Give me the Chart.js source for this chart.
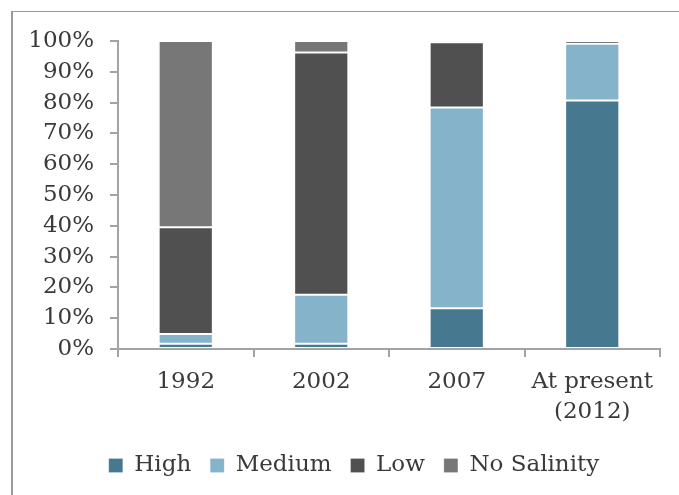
<!DOCTYPE html>
<html>
<head>
<meta charset="utf-8">
<script src="https://cdn.jsdelivr.net/npm/chart.js@4/dist/chart.umd.min.js"></script>
<style>
  html, body { margin: 0; padding: 0; background: #fff; }
  #wrap { position: relative; width: 679px; height: 495px; }
</style>
</head>
<body>
<div id="wrap"><canvas id="salinity"></canvas></div>
<script>
const categories = ["1992", "2002", "2007", ["At present", "(2012)"]];
const high = [1.7, 1.7, 13.2, 80.7];
const medium = [3.2, 15.9, 65.2, 18.4];
const low = [34.6, 78.7, 21.2, 0.9];
const noSalinity = [60.5, 3.7, 0.4, 0];
const yTicks = [0, 10, 20, 30, 40, 50, 60, 70, 80, 90, 100];

const FONT = "'DejaVu Serif', Georgia, serif";
const TEXT = "#3a3a3a";
const AXIS = "#a3a3a3";

// outer frame line (left and top edges only are in view)
const framePlugin = {
  id: "frame",
  beforeDraw(chart) {
    const c = chart.ctx;
    c.save();
    c.fillStyle = "#999999";
    c.fillRect(11, 11, 2, 484);
    c.fillRect(11, 11, 668, 1);
    c.restore();
  }
};

// legend sits a little right of the canvas centre
const legendShift = {
  id: "legendShift",
  afterLayout(chart) {
    chart.legend.left += 24;
    chart.legend.right += 24;
  }
};

function series(label, data, color) {
  return {
    label: label,
    data: data,
    backgroundColor: color,
    borderColor: "rgba(255,255,255,0.2)",
    borderWidth: 1,
    borderSkipped: false,
    barPercentage: 0.4,
    categoryPercentage: 1
  };
}

new Chart(document.getElementById("salinity").getContext("2d"), {
  type: "bar",
  data: {
    labels: categories,
    datasets: [
      series("High", high, "#46788f"),
      series("Medium", medium, "#84b3ca"),
      series("Low", low, "#505050"),
      series("No Salinity", noSalinity, "#777777")
    ]
  },
  options: {
    responsive: true,
    maintainAspectRatio: false,
    animation: false,
    layout: { padding: { left: 0, right: 19, top: 41, bottom: 8 } },
    plugins: {
      tooltip: { enabled: false },
      legend: {
        position: "bottom",
        labels: {
          font: { family: FONT, size: 23 },
          color: TEXT,
          boxWidth: 14,
          boxHeight: 14,
          padding: 19
        }
      }
    },
    scales: {
      x: {
        stacked: true,
        grid: { drawOnChartArea: false, tickLength: 8, color: AXIS, lineWidth: 2 },
        border: { color: AXIS, width: 2 },
        ticks: {
          font: { family: FONT, size: 23, lineHeight: 1.3 },
          color: TEXT,
          padding: 10,
          maxRotation: 0
        },
        afterFit(scale) { scale.height = 86; }
      },
      y: {
        stacked: true,
        min: 0,
        max: 100,
        afterBuildTicks(scale) { scale.ticks = yTicks.map(v => ({ value: v })); },
        grid: { drawOnChartArea: false, tickLength: 8, color: AXIS, lineWidth: 2 },
        border: { color: AXIS, width: 2 },
        ticks: {
          font: { family: FONT, size: 23 },
          color: TEXT,
          padding: 16,
          callback: v => v + "%"
        },
        afterFit(scale) { scale.width = 118; }
      }
    }
  },
  plugins: [framePlugin, legendShift]
});
</script>
</body>
</html>
